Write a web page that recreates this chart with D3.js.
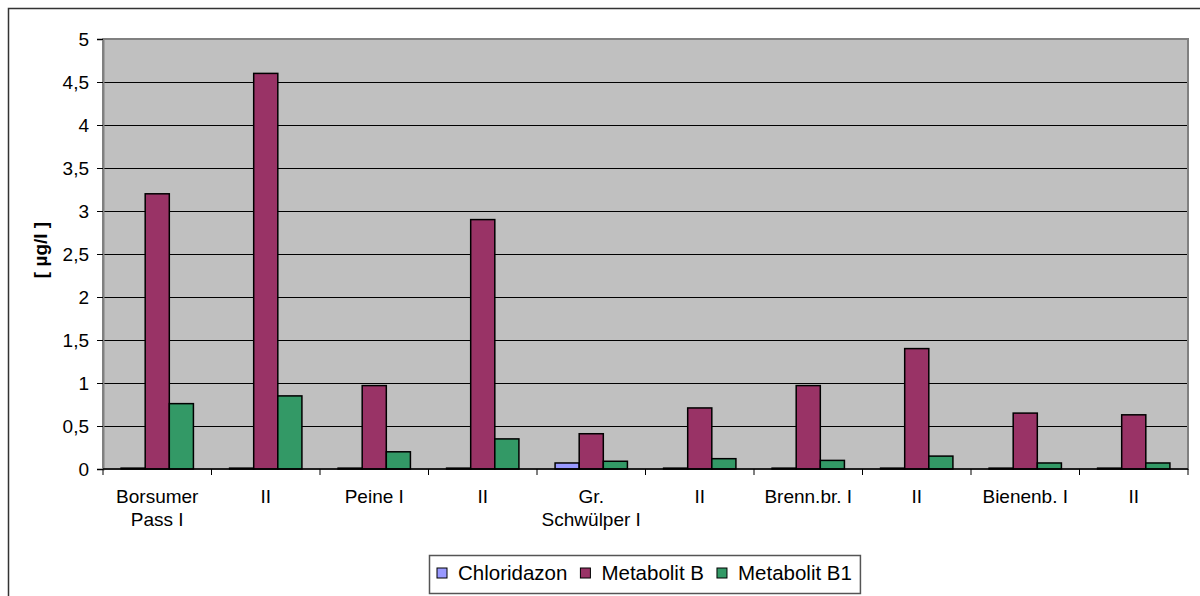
<!DOCTYPE html>
<html>
<head>
<meta charset="utf-8">
<script src="https://cdn.jsdelivr.net/npm/d3@7"></script>
<style>
  body { margin: 0; background: #fff; }
  text { font-family: "Liberation Sans", Arial, sans-serif; fill: #000; }
</style>
</head>
<body>
<svg id="chart" width="1200" height="596"></svg>
<script>
// data
const categories = ["Borsumer\nPass I", "II ", "Peine I", "II  ", "Gr.\nSchwülper I", "II   ", "Brenn.br. I", "II    ", "Bienenb. I", "II     "]
const seriesNames = ["Chloridazon", "Metabolit B", "Metabolit B1"]
const chloridazon = [0.01, 0.01, 0.01, 0.01, 0.07, 0.01, 0.01, 0.01, 0.01, 0.01]
const metabolitB = [3.2, 4.6, 0.97, 2.9, 0.41, 0.71, 0.97, 1.4, 0.65, 0.63]
const metabolitB1 = [0.76, 0.85, 0.2, 0.35, 0.09, 0.12, 0.1, 0.15, 0.07, 0.07]
const yTicks = [0, 0.5, 1, 1.5, 2, 2.5, 3, 3.5, 4, 4.5, 5]
const colors = ["#9999FF", "#993366", "#339966"]

const PLOT = {left: 103, right: 1188, top: 39, bottom: 469}

const svg = d3.select("#chart")

// outer chart frame (runs past the picture on right/bottom)
svg.append("rect")
  .attr("x", 8.5).attr("y", 8.5)
  .attr("width", 1200).attr("height", 600)
  .attr("fill", "#fff")
  .attr("stroke", "#333")
  .attr("stroke-width", 1.5)

let xScale = d3.scaleBand()
  .domain(categories)
  .range([PLOT.left, PLOT.right])
  .padding(0)

let xInner = d3.scaleBand()
  .domain(seriesNames)
  .range([0, xScale.bandwidth()])
  .paddingInner(0)
  .paddingOuter(0.75)

let yScale = d3.scaleLinear()
  .domain([0, 5])
  .range([PLOT.bottom, PLOT.top])

// plot background
svg.append("rect")
  .attr("x", PLOT.left).attr("y", PLOT.top)
  .attr("width", PLOT.right - PLOT.left)
  .attr("height", PLOT.bottom - PLOT.top)
  .attr("fill", "#C0C0C0")

// gridlines
svg.append("g")
  .selectAll("line")
  .data(yTicks.filter(d => d > 0 && d < 5))
  .join("line")
  .attr("x1", PLOT.left).attr("x2", PLOT.right)
  .attr("y1", d => Math.round(yScale(d)) + 0.5)
  .attr("y2", d => Math.round(yScale(d)) + 0.5)
  .attr("stroke", "#000")
  .attr("stroke-width", 1)

// plot border
svg.append("rect")
  .attr("x", PLOT.left).attr("y", PLOT.top)
  .attr("width", PLOT.right - PLOT.left)
  .attr("height", PLOT.bottom - PLOT.top)
  .attr("fill", "none")
  .attr("stroke", "#808080")
  .attr("stroke-width", 2)

// bars
let series = [chloridazon, metabolitB, metabolitB1]
let rows = []
categories.forEach((c, i) => {
  seriesNames.forEach((s, j) => {
    rows.push({cat: c, name: s, value: series[j][i], color: colors[j]})
  })
})

svg.append("g")
  .selectAll("rect")
  .data(rows)
  .join("rect")
  .attr("x", d => xScale(d.cat) + xInner(d.name))
  .attr("width", xInner.bandwidth())
  .attr("y", d => yScale(d.value))
  .attr("height", d => yScale(0) - yScale(d.value))
  .attr("fill", d => d.color)
  .attr("stroke", "#000")
  .attr("stroke-width", 1.5)

// y axis
let yAxis = svg.append("g")
  .attr("transform", `translate(${PLOT.left}, 0)`)
  .call(d3.axisLeft(yScale)
    .tickValues(yTicks)
    .tickSize(6)
    .tickPadding(8)
    .tickFormat(d => String(d).replace(".", ",")))
yAxis.select(".domain").attr("stroke", "#808080").attr("stroke-width", 2)
yAxis.selectAll(".tick line").attr("stroke", "#000")
yAxis.selectAll("text")
  .style("font-size", "19px")
  .style("font-family", '"Liberation Sans", Arial, sans-serif')
  .attr("fill", "#000")

// x axis: ticks at category boundaries
let xAxis = svg.append("g")
svg.append("line")
  .attr("x1", PLOT.left).attr("x2", PLOT.right)
  .attr("y1", PLOT.bottom).attr("y2", PLOT.bottom)
  .attr("stroke", "#000").attr("stroke-width", 1.5)
xAxis.selectAll("line")
  .data(categories.concat([null]))
  .join("line")
  .attr("x1", (d, i) => i < categories.length ? xScale(d) : PLOT.right)
  .attr("x2", (d, i) => i < categories.length ? xScale(d) : PLOT.right)
  .attr("y1", PLOT.bottom).attr("y2", PLOT.bottom + 6)
  .attr("stroke", "#000")

let labels = svg.append("g")
  .selectAll("text")
  .data(categories)
  .join("text")
  .attr("x", d => xScale(d) + xScale.bandwidth() / 2)
  .attr("y", 503)
  .attr("text-anchor", "middle")
  .style("font-size", "19px")
labels.selectAll("tspan")
  .data(d => d.trim().split("\n").map(t => ({t: t, x: xScale(d) + xScale.bandwidth() / 2})))
  .join("tspan")
  .attr("x", d => d.x)
  .attr("dy", (d, i) => i === 0 ? 0 : 23)
  .text(d => d.t)

// y axis title
svg.append("text")
  .attr("transform", `translate(47, 250) rotate(-90)`)
  .attr("text-anchor", "middle")
  .style("font-size", "19px")
  .style("font-weight", "bold")
  .text("[ µg/l ]")

// legend
let legend = svg.append("g")
let legendBox = legend.append("rect")
  .attr("fill", "#fff")
  .attr("stroke", "#555")
  .attr("stroke-width", 1.5)
let lx = 437
seriesNames.forEach((s, j) => {
  legend.append("rect")
    .attr("x", lx).attr("y", 568)
    .attr("width", 10).attr("height", 10)
    .attr("fill", colors[j])
    .attr("stroke", "#000")
  let t = legend.append("text")
    .attr("x", lx + 21).attr("y", 580)
    .style("font-size", "20.5px")
    .text(s)
  lx += 21 + t.node().getComputedTextLength() + 13
})
legendBox
  .attr("x", 429.5).attr("y", 555.5)
  .attr("width", lx - 429 - 5).attr("height", 38)
</script>
</body>
</html>
